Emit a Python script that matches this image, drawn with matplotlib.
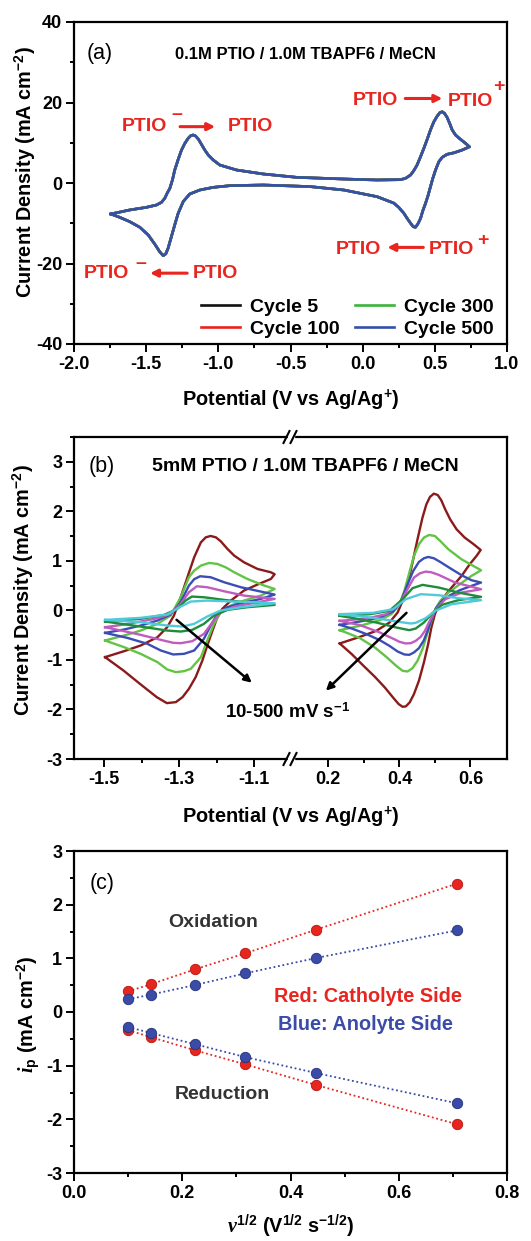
import matplotlib
matplotlib.use('Agg')
import matplotlib.pyplot as plt
from matplotlib.lines import Line2D
from matplotlib.patches import Rectangle
from matplotlib.ticker import MultipleLocator, FixedLocator, FormatStrFormatter

plt.rcParams['font.family'] = ['Liberation Sans', 'DejaVu Sans']
plt.rcParams['font.weight'] = 'bold'
plt.rcParams['axes.unicode_minus'] = False
plt.rcParams['mathtext.fontset'] = 'custom'
plt.rcParams['mathtext.rm'] = 'Liberation Sans:bold'
plt.rcParams['mathtext.bf'] = 'Liberation Sans:bold'
plt.rcParams['mathtext.it'] = 'Liberation Serif:italic:bold'

# ---------------- data: panel (a) ----------------
cycle_labels = ['Cycle 5', 'Cycle 100', 'Cycle 300', 'Cycle 500']
cycle_colors = ['#111111', '#E8231C', '#3CB43C', '#3450A8']
potential_a = [-1.745, -1.614, -1.498, -1.429, -1.394, -1.371, -1.355, -1.336, -1.318, -1.302,
               -1.278, -1.255, -1.232, -1.209, -1.191, -1.174, -1.158, -1.139, -1.117, -1.094,
               -1.070, -1.035, -0.990, -0.874, -0.689, -0.458, -0.131, 0.100, 0.262, 0.297,
               0.332, 0.354, 0.377, 0.401, 0.424, 0.447, 0.470, 0.493, 0.516, 0.535,
               0.551, 0.567, 0.585, 0.604, 0.620, 0.644, 0.678, 0.713, 0.740,
               0.690, 0.632, 0.585, 0.551, 0.528, 0.505, 0.486, 0.470, 0.452, 0.436,
               0.417, 0.401, 0.382, 0.366, 0.350, 0.332, 0.308, 0.285, 0.250, 0.216,
               0.100, -0.015, -0.131, -0.362, -0.478, -0.689, -0.920, -1.035, -1.128, -1.198,
               -1.243, -1.278, -1.302, -1.325, -1.348, -1.364, -1.382, -1.406, -1.440, -1.486,
               -1.544, -1.614, -1.683, -1.745]
current_a = [-7.7, -6.7, -6.04, -5.47, -4.8, -3.8, -2.57, -1.33, 0.75, 3.23,
             5.88, 8.2, 9.85, 11.1, 11.76, 11.93, 11.68, 10.93, 9.61, 8.2,
             6.96, 5.71, 4.47, 3.23, 2.24, 1.41, 0.99, 0.75, 0.83, 1.16,
             1.99, 3.06, 4.47, 6.54, 8.62, 10.85, 13.2, 15.2, 16.6, 17.5,
             17.7, 17.3, 16.3, 14.7, 13.2, 11.9, 10.85, 9.85, 9.0,
             8.2, 7.5, 7.13, 6.38, 5.3, 3.23, 1.16, -0.9, -3.23, -5.0,
             -6.87, -8.8, -10.2, -11.0, -10.85, -10.0, -8.78, -7.5, -6.05, -5.0,
             -3.4, -2.57, -1.74, -0.9, -0.75, -0.5, -0.66, -1.08, -1.74, -2.73,
             -4.6, -7.5, -10.4, -13.3, -16.2, -17.6, -18.05, -17.1, -15.2, -12.9,
             -11.0, -9.6, -8.53, -7.7]

# ---------------- data: panel (b) ----------------
scan_colors = ['#8B1A1A', '#62C444', '#3B4DB5', '#C05CC0', '#1F8C3B', '#4FCADB']

# anolyte side (PTIO / PTIO-), one closed loop per scan rate (500, 200, 100, 50, 20, 10 mV/s)
ano_500_e = [-1.498, -1.447, -1.403, -1.358, -1.332, -1.314, -1.296, -1.278, -1.260, -1.242,
             -1.229, -1.216, -1.202, -1.189, -1.171, -1.153, -1.127, -1.091, -1.055, -1.045,
             -1.055, -1.091, -1.127, -1.162, -1.185, -1.198, -1.211, -1.225, -1.238, -1.256,
             -1.274, -1.291, -1.309, -1.333, -1.360, -1.405, -1.449, -1.498]
ano_500_j = [-0.944, -0.823, -0.709, -0.541, -0.339, -0.104, 0.265, 0.669, 1.072, 1.374,
             1.475, 1.502, 1.475, 1.395, 1.240, 1.105, 0.971, 0.837, 0.769, 0.730,
             0.635, 0.521, 0.400, 0.198, 0.030, -0.138, -0.407, -0.709, -1.011, -1.347,
             -1.583, -1.751, -1.852, -1.872, -1.751, -1.482, -1.213, -0.944]
ano_200_e = [-1.498, -1.447, -1.403, -1.358, -1.323, -1.296, -1.274, -1.260, -1.242, -1.220,
             -1.198, -1.176, -1.153, -1.118, -1.073, -1.045, -1.082, -1.127, -1.162, -1.189,
             -1.207, -1.225, -1.242, -1.269, -1.287, -1.309, -1.332, -1.358, -1.403, -1.447,
             -1.498]
ano_200_j = [-0.608, -0.507, -0.407, -0.272, -0.104, 0.265, 0.669, 0.803, 0.904, 0.958,
             0.938, 0.870, 0.769, 0.635, 0.501, 0.433, 0.299, 0.198, 0.097, -0.037,
             -0.272, -0.608, -0.944, -1.179, -1.227, -1.247, -1.193, -1.045, -0.877, -0.743,
             -0.608]
ano_100_e = [-1.498, -1.447, -1.403, -1.358, -1.323, -1.296, -1.274, -1.260, -1.244, -1.216,
             -1.180, -1.135, -1.082, -1.045, -1.082, -1.135, -1.171, -1.198, -1.216, -1.234,
             -1.260, -1.287, -1.316, -1.349, -1.385, -1.439, -1.498]
ano_100_j = [-0.454, -0.386, -0.306, -0.205, -0.084, 0.165, 0.501, 0.630, 0.689, 0.669,
             0.568, 0.467, 0.380, 0.319, 0.232, 0.144, 0.064, -0.071, -0.306, -0.575,
             -0.810, -0.877, -0.890, -0.810, -0.675, -0.554, -0.454]
ano_50_e = [-1.498, -1.447, -1.403, -1.358, -1.323, -1.296, -1.274, -1.253, -1.225, -1.180,
            -1.127, -1.045, -1.100, -1.153, -1.189, -1.211, -1.234, -1.265, -1.296, -1.316,
            -1.349, -1.403, -1.447, -1.498]
ano_50_j = [-0.339, -0.286, -0.225, -0.158, -0.071, 0.131, 0.366, 0.487, 0.467, 0.386,
            0.299, 0.232, 0.151, 0.077, -0.037, -0.239, -0.474, -0.622, -0.662, -0.655,
            -0.595, -0.494, -0.420, -0.339]
ano_20_e = [-1.498, -1.403, -1.340, -1.305, -1.283, -1.266, -1.234, -1.180, -1.118, -1.045,
            -1.118, -1.171, -1.207, -1.234, -1.265, -1.296, -1.332, -1.403, -1.498]
ano_20_j = [-0.225, -0.171, -0.091, 0.030, 0.198, 0.279, 0.265, 0.212, 0.158, 0.111,
            0.064, 0.010, -0.104, -0.272, -0.393, -0.427, -0.407, -0.326, -0.225]
ano_10_e = [-1.498, -1.403, -1.332, -1.296, -1.269, -1.225, -1.153, -1.045,
            -1.135, -1.189, -1.225, -1.260, -1.291, -1.332, -1.403, -1.498]
ano_10_j = [-0.192, -0.151, -0.084, 0.077, 0.178, 0.198, 0.178, 0.144,
            0.064, -0.003, -0.124, -0.272, -0.326, -0.306, -0.239, -0.192]

# catholyte side (PTIO / PTIO+)
cat_500_e = [0.232, 0.289, 0.335, 0.372, 0.395, 0.409, 0.423, 0.437, 0.451, 0.465,
             0.476, 0.486, 0.497, 0.508, 0.518, 0.529, 0.543, 0.561, 0.584, 0.607,
             0.629, 0.617, 0.598, 0.575, 0.547, 0.524, 0.511, 0.500, 0.490, 0.481,
             0.469, 0.455, 0.441, 0.429, 0.418, 0.409, 0.398, 0.382, 0.359, 0.331,
             0.299, 0.266, 0.232]
cat_500_j = [-0.668, -0.534, -0.413, -0.245, -0.043, 0.192, 0.528, 0.965, 1.435, 1.872,
             2.141, 2.289, 2.356, 2.329, 2.222, 2.040, 1.838, 1.637, 1.469, 1.347,
             1.220, 1.098, 0.931, 0.696, 0.461, 0.259, 0.111, -0.077, -0.346, -0.682,
             -1.051, -1.421, -1.690, -1.858, -1.939, -1.946, -1.892, -1.758, -1.556, -1.341,
             -1.119, -0.884, -0.668]
cat_200_e = [0.232, 0.289, 0.345, 0.377, 0.398, 0.414, 0.428, 0.441, 0.455, 0.469,
             0.483, 0.500, 0.515, 0.538, 0.575, 0.630, 0.603, 0.570, 0.538, 0.515,
             0.501, 0.490, 0.478, 0.465, 0.451, 0.437, 0.423, 0.409, 0.391, 0.363,
             0.331, 0.289, 0.257, 0.232]
cat_200_j = [-0.400, -0.312, -0.198, -0.077, 0.091, 0.392, 0.763, 1.099, 1.334, 1.469,
             1.522, 1.502, 1.401, 1.233, 1.031, 0.810, 0.696, 0.528, 0.360, 0.192,
             0.024, -0.212, -0.481, -0.783, -1.018, -1.166, -1.233, -1.220, -1.119, -0.938,
             -0.749, -0.561, -0.467, -0.400]
cat_100_e = [0.232, 0.289, 0.345, 0.382, 0.405, 0.423, 0.439, 0.455, 0.469, 0.481,
             0.497, 0.515, 0.543, 0.575, 0.603, 0.630, 0.603, 0.570, 0.543, 0.520,
             0.503, 0.492, 0.481, 0.469, 0.455, 0.441, 0.428, 0.414, 0.395, 0.372,
             0.345, 0.308, 0.266, 0.232]
cat_100_j = [-0.292, -0.225, -0.144, -0.023, 0.192, 0.528, 0.797, 0.978, 1.052, 1.079,
             1.052, 0.978, 0.851, 0.710, 0.609, 0.562, 0.495, 0.407, 0.306, 0.192,
             0.044, -0.144, -0.380, -0.602, -0.763, -0.849, -0.897, -0.890, -0.830, -0.716,
             -0.602, -0.481, -0.366, -0.292]
cat_50_e = [0.232, 0.308, 0.363, 0.400, 0.428, 0.441, 0.458, 0.474, 0.490, 0.511,
            0.557, 0.630, 0.575, 0.529, 0.501, 0.483, 0.472, 0.460, 0.446, 0.432,
            0.418, 0.400, 0.391, 0.345, 0.289, 0.232]
cat_50_j = [-0.211, -0.164, -0.077, 0.125, 0.495, 0.662, 0.749, 0.783, 0.769, 0.716,
            0.562, 0.427, 0.360, 0.226, 0.004, -0.245, -0.413, -0.534, -0.615, -0.662,
            -0.668, -0.634, -0.601, -0.446, -0.298, -0.211]
cat_20_e = [0.232, 0.317, 0.372, 0.409, 0.437, 0.465, 0.511, 0.566, 0.630,
            0.566, 0.520, 0.492, 0.469, 0.446, 0.428, 0.391, 0.335, 0.271, 0.232]
cat_20_j = [-0.110, -0.077, -0.009, 0.226, 0.448, 0.515, 0.461, 0.360, 0.273,
            0.206, 0.112, -0.063, -0.245, -0.366, -0.399, -0.345, -0.245, -0.157, -0.110]
cat_10_e = [0.232, 0.326, 0.382, 0.418, 0.460, 0.511, 0.566, 0.630,
            0.547, 0.501, 0.474, 0.446, 0.432, 0.391, 0.335, 0.232]
cat_10_j = [-0.077, -0.050, 0.024, 0.226, 0.327, 0.306, 0.246, 0.206,
            0.125, -0.009, -0.157, -0.251, -0.265, -0.224, -0.157, -0.077]

# ---------------- data: panel (c) ----------------
sqrt_scan = [0.1, 0.1414, 0.2236, 0.3162, 0.4472, 0.7071]
red_oxidation = [0.385, 0.515, 0.795, 1.093, 1.534, 2.39]
red_reduction = [-0.34, -0.466, -0.714, -0.975, -1.36, -2.09]
blue_oxidation = [0.236, 0.323, 0.503, 0.72, 1.006, 1.52]
blue_reduction = [-0.28, -0.39, -0.60, -0.84, -1.137, -1.70]

RED = '#E8251F'
BLUE = '#3A4BA8'

W, H = 531, 1241
fig = plt.figure(figsize=(W / 100, H / 100), dpi=100)


def rect(x0, y0, x1, y1):
    return [x0 / W, 1 - y1 / H, (x1 - x0) / W, (y1 - y0) / H]


def fx(x):
    return x / W


def fy(y):
    return 1 - y / H


TICK_FS = 13


def style(ax):
    for s in ax.spines.values():
        s.set_linewidth(1.6)
    ax.tick_params(which='both', direction='out', width=1.4, labelsize=TICK_FS,
                   top=False, right=False)
    ax.tick_params(which='major', length=5.5, pad=3)
    ax.tick_params(which='minor', length=3)


# ================= panel (a) =================
axa = fig.add_axes(rect(74, 22, 507, 344))
style(axa)
axa.set_xlim(-2.0, 1.0)
axa.set_ylim(-40, 40)
axa.xaxis.set_major_locator(MultipleLocator(0.5))
axa.xaxis.set_minor_locator(MultipleLocator(0.25))
axa.xaxis.set_major_formatter(FormatStrFormatter('%.1f'))
axa.yaxis.set_major_locator(MultipleLocator(20))
axa.yaxis.set_minor_locator(MultipleLocator(10))
handles = []
for lab, col in zip(cycle_labels, cycle_colors):
    ln, = axa.plot(potential_a, current_a, color=col, lw=1.9, label=lab)
    handles.append(ln)
axa.legend(handles=handles, ncol=2, loc='lower right', bbox_to_anchor=(0.977, 0.006),
           frameon=False, fontsize=14, handlelength=2.0, handletextpad=0.5,
           columnspacing=0.8, labelspacing=0.25, borderpad=0.2, borderaxespad=0)
axa.text(-1.82, 32.2, '(a)', fontsize=15.5, fontweight='normal', ha='center', va='center')
axa.text(-0.398, 32.0, '0.1M PTIO / 1.0M TBAPF6 / MeCN', fontsize=12,
         ha='center', va='center')

ann_kw = dict(color=RED, fontsize=14, ha='center', va='center')
arr_kw = dict(arrowstyle='-|>', color=RED, lw=2.2, mutation_scale=11, shrinkA=0, shrinkB=0)
# upper left
axa.text(-1.511, 14.0, 'PTIO', **ann_kw)
axa.text(-1.29, 16.9, '\u2013', **ann_kw)
axa.annotate('', xy=(-1.022, 14.0), xytext=(-1.265, 14.0), arrowprops=arr_kw)
axa.text(-0.776, 14.0, 'PTIO', **ann_kw)
# lower left
axa.text(-1.778, -22.4, 'PTIO', **ann_kw)
axa.text(-1.535, -19.9, '\u2013', **ann_kw)
axa.annotate('', xy=(-1.473, -22.4), xytext=(-1.216, -22.4), arrowprops=arr_kw)
axa.text(-1.022, -22.4, 'PTIO', **ann_kw)
# upper right
axa.text(0.091, 20.4, 'PTIO', **ann_kw)
axa.annotate('', xy=(0.552, 21.0), xytext=(0.295, 21.0), arrowprops=arr_kw)
axa.text(0.746, 20.2, 'PTIO', **ann_kw)
axa.text(0.94, 23.9, '+', **ann_kw)
# lower right
axa.text(-0.03, -16.5, 'PTIO', **ann_kw)
axa.annotate('', xy=(0.171, -16.0), xytext=(0.42, -16.0), arrowprops=arr_kw)
axa.text(0.618, -16.6, 'PTIO', **ann_kw)
axa.text(0.829, -14.2, '+', **ann_kw)

LAB_FS = 14.3
fig.text(fx(25), fy(172), 'Current Density (mA cm$^{-2}$)', rotation=90,
         ha='center', va='center', fontsize=LAB_FS)
fig.text(fx(290.5), fy(400), 'Potential (V vs Ag/Ag$^{+}$)', ha='center', va='center',
         fontsize=LAB_FS)

# ================= panel (b) =================
axbl = fig.add_axes(rect(74, 437, 290, 759))
axbr = fig.add_axes(rect(290, 437, 507, 759), sharey=axbl)
for ax in (axbl, axbr):
    style(ax)
axbl.set_xlim(-1.581, -1.004)
axbr.set_xlim(0.092, 0.703)
axbl.set_ylim(-3, 3.5)
axbl.spines['right'].set_visible(False)
axbr.spines['left'].set_visible(False)
axbr.tick_params(axis='y', which='both', left=False, labelleft=False)
axbl.yaxis.set_major_locator(MultipleLocator(1))
axbl.yaxis.set_minor_locator(MultipleLocator(0.5))
axbl.xaxis.set_major_locator(FixedLocator([-1.5, -1.3, -1.1]))
axbl.xaxis.set_minor_locator(FixedLocator([-1.4, -1.2]))
axbl.xaxis.set_major_formatter(FormatStrFormatter('%.1f'))
axbr.xaxis.set_major_locator(FixedLocator([0.2, 0.4, 0.6]))
axbr.xaxis.set_minor_locator(FixedLocator([0.3, 0.5]))
axbr.xaxis.set_major_formatter(FormatStrFormatter('%.1f'))

ano_curves = [(ano_500_e, ano_500_j), (ano_200_e, ano_200_j), (ano_100_e, ano_100_j),
              (ano_50_e, ano_50_j), (ano_20_e, ano_20_j), (ano_10_e, ano_10_j)]
cat_curves = [(cat_500_e, cat_500_j), (cat_200_e, cat_200_j), (cat_100_e, cat_100_j),
              (cat_50_e, cat_50_j), (cat_20_e, cat_20_j), (cat_10_e, cat_10_j)]
for (e, j), col in zip(ano_curves, scan_colors):
    axbl.plot(e, j, color=col, lw=1.7, solid_joinstyle='round')
for (e, j), col in zip(cat_curves, scan_colors):
    axbr.plot(e, j, color=col, lw=1.7, solid_joinstyle='round')

barr = dict(arrowstyle='-|>', color='black', lw=1.8, mutation_scale=11, shrinkA=0, shrinkB=0)
axbl.annotate('', xy=(-1.106, -1.46), xytext=(-1.307, -0.19), arrowprops=barr)
axbr.annotate('', xy=(0.193, -1.62), xytext=(0.42, -0.05), arrowprops=barr)

fig.text(fx(288), fy(712.7), '10-500 mV s$^{-1}$', ha='center', va='center', fontsize=13.5)
fig.text(fx(102), fy(466.7), '(b)', ha='center', va='center', fontsize=15.5, fontweight='normal')
fig.text(fx(305), fy(466.7), '5mM PTIO / 1.0M TBAPF6 / MeCN', ha='center', va='center',
         fontsize=14)

# break marks
for yb in (437, 759):
    fig.patches.append(Rectangle((fx(287.5), fy(yb + 2)), 6 / W, 4 / H,
                                 transform=fig.transFigure, color='white', zorder=5))
    for xb in (286.5, 293.5):
        fig.lines.append(Line2D([fx(xb - 3), fx(xb + 3)], [fy(yb + 6), fy(yb - 6)],
                                transform=fig.transFigure, color='black', lw=1.5, zorder=6))

fig.text(fx(23), fy(590), 'Current Density (mA cm$^{-2}$)', rotation=90,
         ha='center', va='center', fontsize=LAB_FS)
fig.text(fx(290.5), fy(816.7), 'Potential (V vs Ag/Ag$^{+}$)', ha='center', va='center',
         fontsize=LAB_FS)

# ================= panel (c) =================
axc = fig.add_axes(rect(74, 851, 507, 1173))
style(axc)
axc.set_xlim(0, 0.8)
axc.set_ylim(-3, 3)
axc.xaxis.set_major_locator(MultipleLocator(0.2))
axc.xaxis.set_minor_locator(MultipleLocator(0.1))
axc.xaxis.set_major_formatter(FormatStrFormatter('%.1f'))
axc.yaxis.set_major_locator(MultipleLocator(1))
axc.yaxis.set_minor_locator(MultipleLocator(0.5))
for ys, col, dark in [(red_oxidation, RED, '#B01810'), (red_reduction, RED, '#B01810'),
                      (blue_oxidation, BLUE, '#24317A'), (blue_reduction, BLUE, '#24317A')]:
    axc.plot(sqrt_scan, ys, ls=(0, (1, 1.5)), color=col, lw=1.3, zorder=2)
    axc.plot(sqrt_scan, ys, ls='none', marker='o', ms=7.5, mfc=col, mec=dark, mew=0.6, zorder=3)

axc.text(0.052, 2.40, '(c)', fontsize=15.5, fontweight='normal', ha='center', va='center')
axc.text(0.257, 1.664, 'Oxidation', color='#333333', fontsize=14, ha='center', va='center')
axc.text(0.275, -1.546, 'Reduction', color='#333333', fontsize=14, ha='center', va='center')
axc.text(0.543, 0.285, 'Red: Catholyte Side', color=RED, fontsize=14.3, ha='center', va='center')
axc.text(0.538, -0.242, 'Blue: Anolyte Side', color=BLUE, fontsize=14.3, ha='center', va='center')

fig.text(fx(28), fy(1014), '$i_{\\mathrm{p}}$ (mA cm$^{-2}$)', rotation=90,
         ha='center', va='center', fontsize=LAB_FS)
fig.text(fx(290.5), fy(1226), '$\\nu^{1/2}$ (V$^{1/2}$ s$^{-1/2}$)', ha='center', va='center',
         fontsize=LAB_FS)

fig.savefig('out.png', dpi=100)
